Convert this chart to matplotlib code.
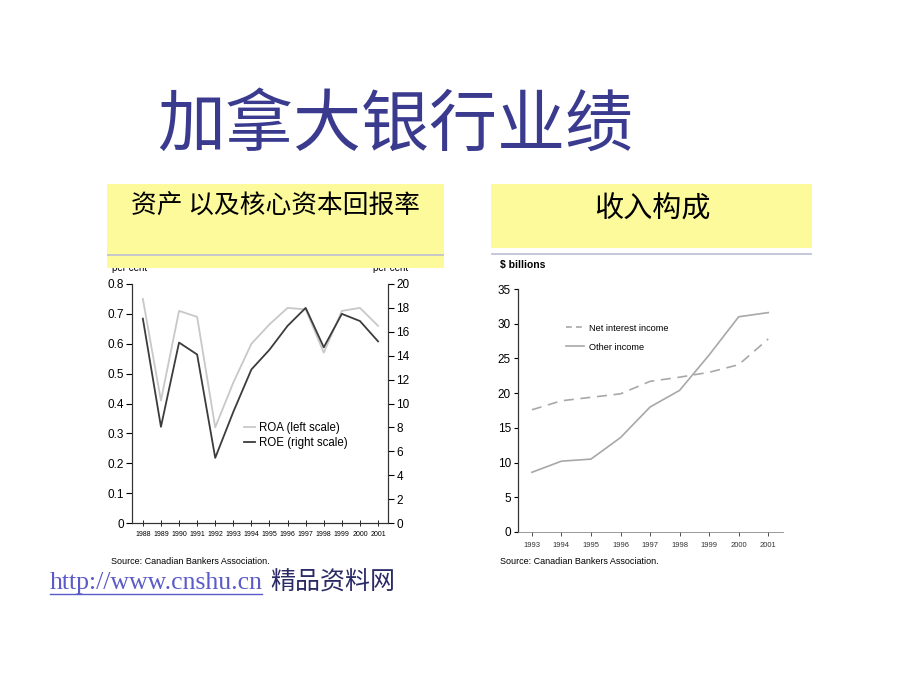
import matplotlib.pyplot as plt
from matplotlib.patches import Rectangle
from matplotlib.lines import Line2D

plt.rcParams['font.family'] = ['Liberation Sans', 'Noto Sans CJK SC']

# left chart: ROA / ROE
years_a = [1988, 1989, 1990, 1991, 1992, 1993, 1994, 1995, 1996, 1997, 1998, 1999, 2000, 2001]
roa = [0.75, 0.41, 0.71, 0.69, 0.32, 0.47, 0.60, 0.665, 0.72, 0.715, 0.57, 0.71, 0.72, 0.66]
roe = [17.1, 8.05, 15.1, 14.1, 5.45, 9.3, 12.85, 14.5, 16.5, 18.0, 14.7, 17.5, 16.9, 15.2]

# right chart: income composition
years_b = [1993, 1994, 1995, 1996, 1997, 1998, 1999, 2000, 2001]
net_interest = [17.6, 18.9, 19.4, 19.9, 21.7, 22.3, 23.0, 24.1, 27.8]
other_income = [8.6, 10.2, 10.5, 13.6, 18.0, 20.4, 25.5, 31.0, 31.6]

W, H = 920, 690
fig = plt.figure(figsize=(9.2, 6.9), dpi=100)

def fx(x):
    return x / W

def fy(y):
    return 1 - y / H

def box(x0, y0, x1, y1, **kw):
    r = Rectangle((fx(x0), fy(y1)), fx(x1 - x0), (y1 - y0) / H,
                  transform=fig.transFigure, **kw)
    fig.add_artist(r)

cjk = ['Noto Sans CJK SC', 'DejaVu Sans']
navy = '#3a3a8e'
fig.text(fx(157), fy(127), '加拿大银行业绩', fontsize=49, color=navy, va='center', family=cjk)

# "per cent" labels sit partly under the yellow box
fig.text(fx(130), fy(268), 'per cent', fontsize=7, ha='center', va='center', zorder=1)
fig.text(fx(391), fy(268), 'per cent', fontsize=7, ha='center', va='center', zorder=1)

yellow = '#fdfa9c'
box(107, 184, 444, 268, facecolor=yellow, edgecolor='none', zorder=3)
box(107, 254, 444, 256, facecolor='#c8c8c8', edgecolor='none', zorder=4)
box(491, 184, 812, 248, facecolor=yellow, edgecolor='none', zorder=3)
box(491, 253, 812, 255, facecolor='#c8c8dc', edgecolor='none', zorder=4)
fig.text(fx(276), fy(207), '资产 以及核心资本回报率', fontsize=18.5, ha='center', va='center',
         zorder=5, family=cjk)
fig.text(fx(652), fy(210), '收入构成', fontsize=21, ha='center', va='center', zorder=5, family=cjk)

spine_c = '#333333'

# ---- left chart
ax1 = fig.add_axes([fx(132), fy(523), fx(388 - 132), (523 - 284) / H])
ax1.plot(years_a, roa, color='#c8c8c8', lw=1.3, label='ROA (left scale)')
ax1.set_xlim(1987.4, 2001.55)
ax1.set_ylim(0, 0.8)
ax1.set_yticks([i / 10 for i in range(9)])
ax1.set_yticklabels(['0'] + ['%.1f' % (i / 10) for i in range(1, 9)])
ax1.set_xticks(years_a)
ax1.set_xticklabels([str(y) for y in years_a])
ax1.spines['top'].set_visible(False)
for s in ['left', 'right', 'bottom']:
    ax1.spines[s].set_color(spine_c)
    ax1.spines[s].set_linewidth(0.8)
ax1.tick_params(axis='y', direction='out', length=4, width=0.8, labelsize=8.5, pad=2)
ax1.tick_params(axis='x', direction='inout', length=5, width=0.6, labelsize=5, pad=3)

ax2 = ax1.twinx()
ax2.plot(years_a, roe, color='#3c3c3c', lw=1.3, label='ROE (right scale)')
ax2.set_ylim(0, 20)
ax2.set_yticks(range(0, 21, 2))
ax2.spines['top'].set_visible(False)
for s in ['left', 'right', 'bottom']:
    ax2.spines[s].set_color(spine_c)
    ax2.spines[s].set_linewidth(0.8)
ax2.tick_params(axis='y', direction='out', length=4, width=0.8, labelsize=8.5, pad=2)

h1 = [Line2D([], [], color='#c8c8c8', lw=1.3), Line2D([], [], color='#3c3c3c', lw=1.3)]
ax2.legend(h1, ['ROA (left scale)', 'ROE (right scale)'], loc='upper left',
           bbox_to_anchor=(fx(238), fy(416)), bbox_transform=fig.transFigure,
           frameon=False, fontsize=8.3, handlelength=1.0, handletextpad=0.35,
           labelspacing=0.3, borderpad=0)

fig.text(fx(111), fy(561), 'Source: Canadian Bankers Association.', fontsize=6.5, va='center')

# ---- right chart
ax3 = fig.add_axes([fx(518), fy(532), fx(783 - 518), (532 - 289) / H])
ax3.plot(years_b, net_interest, color='#a8a8a8', lw=1.2, dashes=(6, 4), label='Net interest income')
ax3.plot(years_b, other_income, color='#a8a8a8', lw=1.2, label='Other income')
ax3.set_xlim(1992.53, 2001.5)
ax3.set_ylim(0, 35)
ax3.set_yticks(range(0, 36, 5))
ax3.set_xticks(years_b)
ax3.set_xticklabels([str(y) for y in years_b])
for s in ['top', 'right']:
    ax3.spines[s].set_visible(False)
ax3.spines['left'].set_color(spine_c)
ax3.spines['left'].set_linewidth(0.9)
ax3.spines['bottom'].set_color('#888888')
ax3.spines['bottom'].set_linewidth(0.6)
ax3.tick_params(axis='y', direction='out', length=3, width=0.8, labelsize=8.5, pad=2)
ax3.tick_params(axis='x', direction='out', length=3, width=0.6, labelsize=5.5, pad=4, colors='#333333')
h3 = [Line2D([], [], color='#a8a8a8', lw=1.2, dashes=(3.5, 2.5)),
      Line2D([], [], color='#a8a8a8', lw=1.2)]
ax3.legend(h3, ['Net interest income', 'Other income'], loc='upper left',
           bbox_to_anchor=(fx(561), fy(319)), bbox_transform=fig.transFigure,
           frameon=False, fontsize=6.6, handlelength=2.0, handletextpad=0.6,
           labelspacing=1.1, borderpad=0)

fig.text(fx(500), fy(265), '$ billions', fontsize=7.5, va='center', weight='bold')
fig.text(fx(500), fy(561), 'Source: Canadian Bankers Association.', fontsize=6.5, va='center')

# footer link
fig.text(fx(50), fy(583), 'http://www.cnshu.cn', fontsize=18.5, color='#5a5ac8',
         family='Liberation Serif', va='center')
fig.add_artist(Line2D([fx(50), fx(262)], [fy(594), fy(594)], color='#5a5ac8', lw=1,
                      transform=fig.transFigure))
fig.text(fx(270), fy(583), '精品资料网', fontsize=18, color='#2a2a66', va='center', family=cjk)

fig.savefig('out.png', dpi=100)
